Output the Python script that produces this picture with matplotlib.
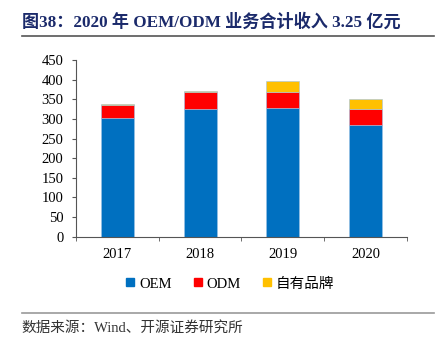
import numpy as np
import matplotlib.pyplot as plt
from matplotlib.lines import Line2D

# Data
years = ["2017", "2018", "2019", "2020"]
oem = [302, 325, 327, 285]
odm = [34, 43, 41, 40]
own_brand = [1, 3, 29, 25]
series_names = ["OEM", "ODM", "自有品牌"]
colors = ["#0070C0", "#FF0000", "#FFC000"]

title_text = "图38：2020 年 OEM/ODM 业务合计收入 3.25 亿元"
source_text = "数据来源：Wind、开源证券研究所"

serif_cjk = ["Liberation Serif", "Noto Sans CJK SC"]
plt.rcParams["font.family"] = serif_cjk

fig = plt.figure(figsize=(4.38, 3.38), dpi=100)
ax = fig.add_axes([0.1735, 0.2997, 0.7555, 0.5228])

x = np.arange(len(years))
bottom = np.zeros(len(years))
for vals, name, c in zip([oem, odm, own_brand], series_names, colors):
    ax.bar(x, vals, width=0.4, bottom=bottom, color=c, edgecolor="#9DC3E6",
           linewidth=0.4, label=name)
    bottom += np.array(vals)

ax.set_xlim(-0.5, 3.5)
ax.set_ylim(0, 450)
ax.set_yticks(range(0, 451, 50))
ax.set_xticks(x)
ax.set_xticklabels(years)
ax.set_xticks(np.arange(-0.5, 3.6, 1), minor=True)
ax.tick_params(axis="x", which="major", length=0, pad=8, labelsize=10.5)
ax.tick_params(axis="x", which="minor", length=3, direction="out", color="#555555")
ax.tick_params(axis="y", length=3, direction="out", labelsize=10.5, pad=6, color="#555555")
for s in ["top", "right"]:
    ax.spines[s].set_visible(False)
ax.spines["left"].set_color("#555555")
ax.spines["bottom"].set_color("#555555")

# legend
handles = [Line2D([], [], marker="s", linestyle="", markersize=5.5, color=c) for c in colors]
fig.legend(handles, series_names, loc="center", bbox_to_anchor=(0.525, 0.16), ncol=3,
           frameon=False, fontsize=10.5, handlelength=0.6, handletextpad=0.3,
           columnspacing=1.5)

# title, rules and source
fig.text(0.05, 0.935, title_text, fontsize=12.3, fontweight="bold", color="#1B2A6B",
         va="center", ha="left")
fig.add_artist(Line2D([0.05, 0.99], [0.893, 0.893], color="#555555", linewidth=1.2))
fig.add_artist(Line2D([0.05, 0.99], [0.075, 0.075], color="#999999", linewidth=1.2))
fig.text(0.05, 0.03, source_text, fontsize=10.5, color="#333333", va="center", ha="left")

fig.savefig("out.png", dpi=100)
